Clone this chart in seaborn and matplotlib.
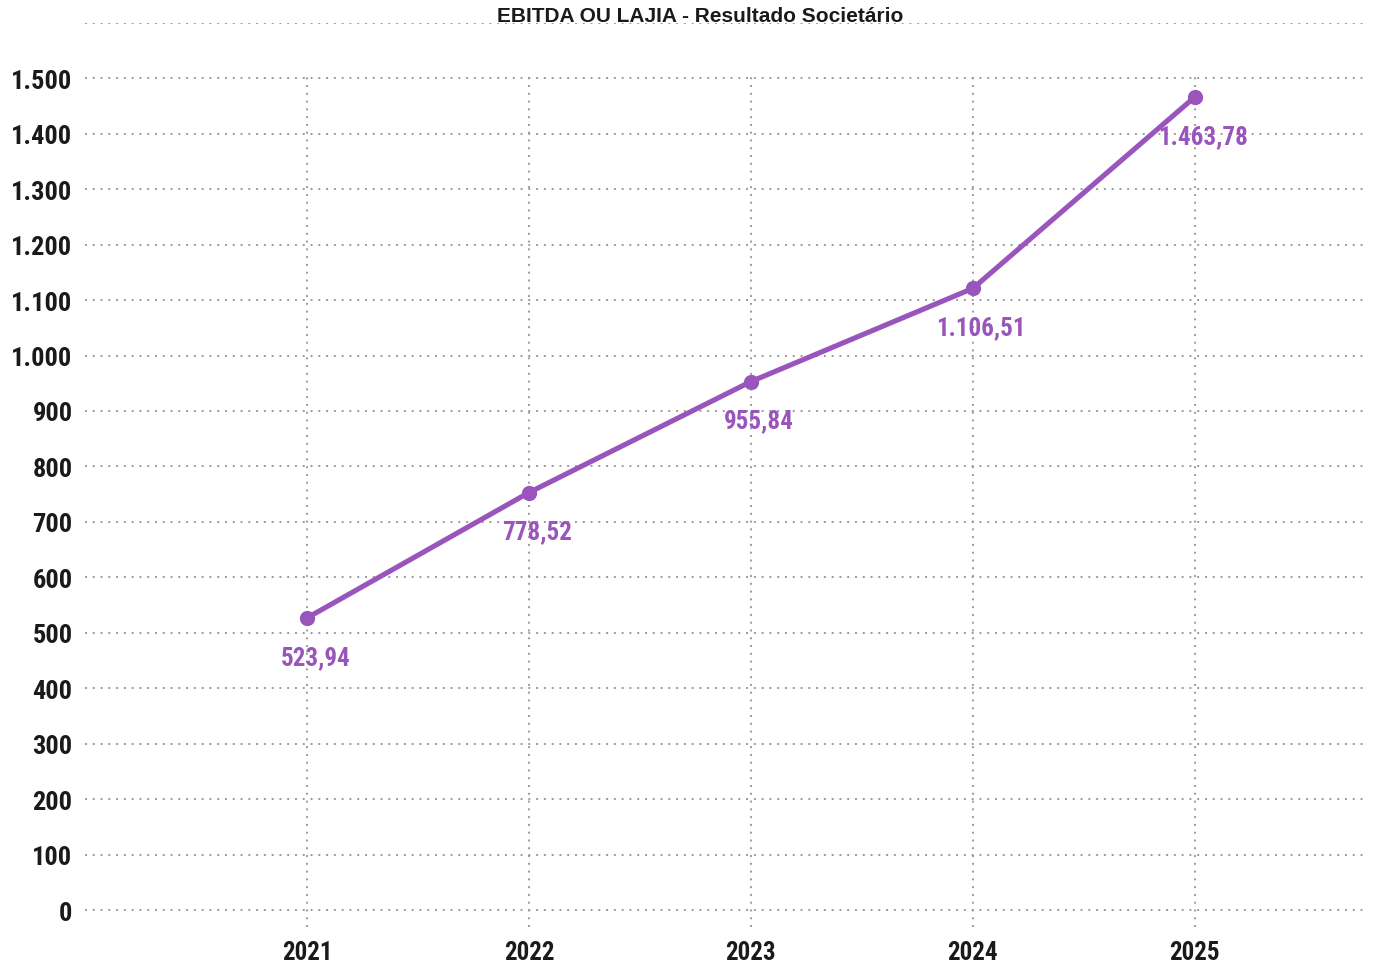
import matplotlib
matplotlib.use("Agg")
import matplotlib.pyplot as plt
import matplotlib.ticker as mticker
from matplotlib import font_manager
import seaborn as sns
import pandas as pd

# ---- data ----
years = [2021, 2022, 2023, 2024, 2025]
values = [527, 753, 953, 1121, 1466]          # plotted positions
labels = ["523,94", "778,52", "955,84", "1.106,51", "1.463,78"]  # data label texts
yticks = list(range(0, 1700, 100))
title = "EBITDA OU LAJIA - Resultado Societário"

sns.set_theme(style="white")
avail = {f.name for f in font_manager.fontManager.ttflist}
narrow = [f for f in ["Liberation Sans Narrow", "Roboto Condensed", "Arial Narrow"] if f in avail]
fam = narrow + ["Liberation Sans", "DejaVu Sans"]
plt.rcParams["font.family"] = fam

color = "#9a55bd"
grid_c = "#9a9a9a"

fig = plt.figure(figsize=(13.73, 9.62), dpi=100)
ax = fig.add_axes([85 / 1373, 1 - 928 / 962, (1368 - 85) / 1373, (928 - 23.6) / 962])

df = pd.DataFrame({"year": years, "value": values})
sns.lineplot(data=df, x="year", y="value", ax=ax, color=color, linewidth=3.7,
             marker="o", markersize=11, markeredgewidth=0, zorder=3)

ax.set_xlim(2020, 2025.78)
ax.set_ylim(-30, 1600)
ax.set_yticks(yticks)
ax.set_xticks(years)
ax.yaxis.set_major_formatter(mticker.FuncFormatter(
    lambda v, p: "" if v >= 1600 else f"{v:,.0f}".replace(",", ".")))
ax.set_xticklabels([str(y) for y in years])

ax.grid(axis="y", color=grid_c, linestyle=(0, (1, 3)), linewidth=1.4)
for y in years:
    ax.axvline(y, ymin=0, ymax=0.945, color=grid_c, linestyle=(0, (1, 3)),
               linewidth=1.4, zorder=1)

for s in ax.spines.values():
    s.set_visible(False)
ax.tick_params(axis="both", length=0, labelsize=18, colors="#1a1a1a")
ax.tick_params(axis="y", labelsize=19, pad=9)
ax.tick_params(axis="x", pad=9)
for t in ax.get_xticklabels() + ax.get_yticklabels():
    t.set_fontweight("bold")
ax.set_xlabel("")
ax.set_ylabel("")

for x, v, lab in zip(years, values, labels):
    ax.annotate(lab, (x, v), xytext=(6, -28), textcoords="offset points",
                ha="center", va="center", fontsize=18, fontweight="bold",
                color=color, zorder=4)

fig.text(700 / 1373, 1 - 16 / 962, title, ha="center", va="center",
         fontsize=15, fontweight="bold", color="#1a1a1a",
         family=["Liberation Sans", "DejaVu Sans"])

fig.savefig("out.png", dpi=100)
